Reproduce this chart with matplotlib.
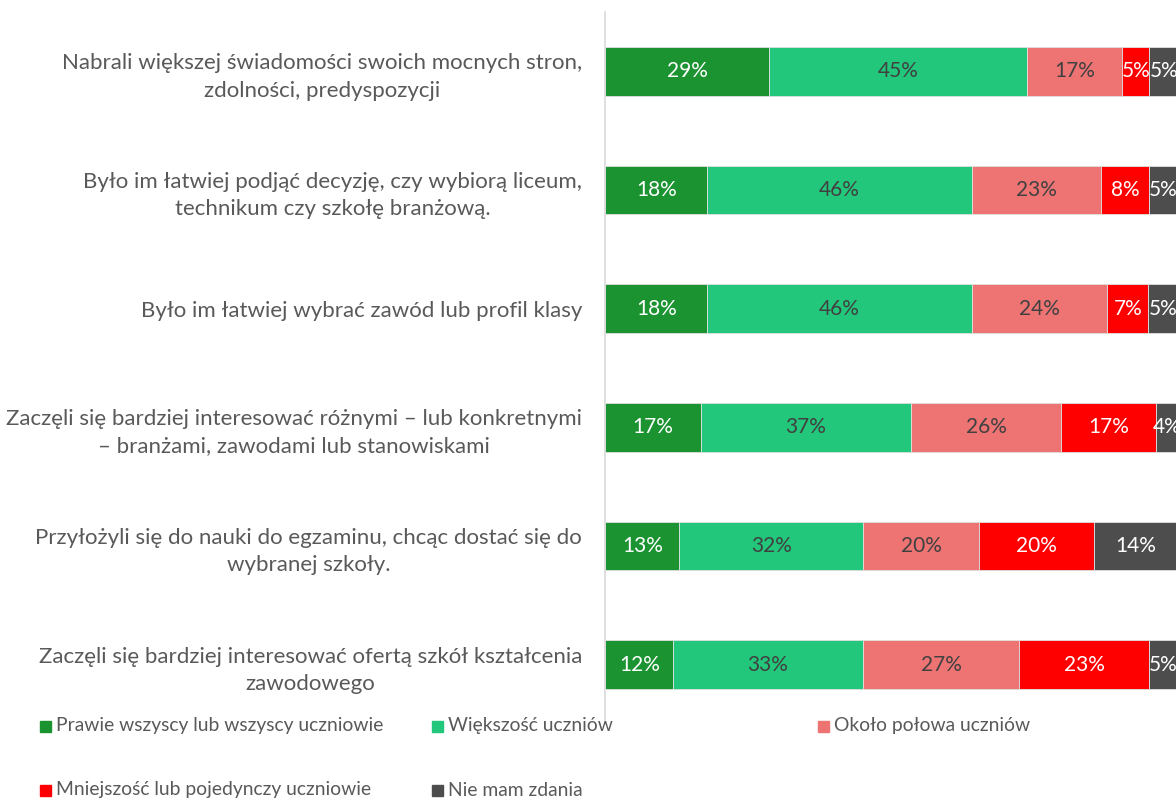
import numpy as np
import matplotlib
matplotlib.use("Agg")
import matplotlib.pyplot as plt
from matplotlib.patches import Rectangle

plt.rcParams['font.family'] = ['Lato', 'DejaVu Sans']

# categories, top to bottom
categories = [
    "Nabrali większej świadomości swoich mocnych stron,\nzdolności, predyspozycji",
    "Było im łatwiej podjąć decyzję, czy wybiorą liceum,\ntechnikum czy szkołę branżową.",
    "Było im łatwiej wybrać zawód lub profil klasy",
    "Zaczęli się bardziej interesować różnymi – lub konkretnymi\n– branżami, zawodami lub stanowiskami",
    "Przyłożyli się do nauki do egzaminu, chcąc dostać się do\nwybranej szkoły.",
    "Zaczęli się bardziej interesować ofertą szkół kształcenia\nzawodowego",
]

series_names = [
    "Prawie wszyscy lub wszyscy uczniowie",
    "Większość uczniów",
    "Około połowa uczniów",
    "Mniejszość lub pojedynczy uczniowie",
    "Nie mam zdania",
]

# values in percent (estimated widths), one list per series
prawie_wszyscy = [28.6, 17.7, 17.7, 16.6, 12.9, 11.8]
wiekszosc = [45.0, 46.2, 46.2, 36.7, 32.1, 33.1]
okolo_polowa = [16.6, 22.6, 23.7, 26.2, 20.2, 27.3]
mniejszosc = [4.7, 8.3, 7.1, 16.6, 20.1, 22.6]
nie_mam_zdania = [5.1, 5.2, 5.3, 3.9, 14.4, 5.2]

# labels as printed on the chart
lab_prawie = [29, 18, 18, 17, 13, 12]
lab_wiekszosc = [45, 46, 46, 37, 32, 33]
lab_polowa = [17, 23, 24, 26, 20, 27]
lab_mniejszosc = [5, 8, 7, 17, 20, 23]
lab_brak = [5, 5, 5, 4, 14, 5]

series = [prawie_wszyscy, wiekszosc, okolo_polowa, mniejszosc, nie_mam_zdania]
labels = [lab_prawie, lab_wiekszosc, lab_polowa, lab_mniejszosc, lab_brak]
colors = ['#1b9331', '#22c77b', '#ee7474', '#ff0000', '#4d4d4d']
text_colors = ['white', '#404040', '#404040', 'white', 'white']

W, H = 1176, 799
fig = plt.figure(figsize=(W / 100, H / 100), dpi=100)
ax = fig.add_axes([605.5 / W, 1 - 724 / H, 573 / W, 712 / H])

y = np.arange(len(categories))
left = np.zeros(len(categories))
for vals, labs, col, tcol in zip(series, labels, colors, text_colors):
    vals = np.array(vals)
    ax.barh(y, vals, left=left, height=0.41, color=col,
            edgecolor='#e0e0e0', linewidth=0.6)
    for yi, (l, v, lab) in enumerate(zip(left, vals, labs)):
        ax.text(l + v / 2, yi, f"{lab}%", ha='center', va='center',
                color=tcol, fontsize=15, clip_on=False)
    left += vals

ax.set_xlim(0, 100)
ax.set_ylim(len(categories) - 0.5, -0.5)
ax.set_xticks([])
ax.set_yticks(y)
ax.set_yticklabels(categories, fontsize=16, color='#595959',
                   multialignment='center', linespacing=1.45)
ax.tick_params(axis='y', length=0, pad=17)
for s in ['top', 'right', 'bottom']:
    ax.spines[s].set_visible(False)
ax.spines['left'].set_color('#d9d9d9')
ax.spines['left'].set_linewidth(1.2)

# legend, laid out like the original (row-wise)
legend_pos = [(40, 726), (432, 726), (818, 726), (40, 790), (432, 790)]
for (px, py), name, col in zip(legend_pos, series_names, colors):
    fig.patches.append(Rectangle((px / W, 1 - (py + 5.5) / H), 11 / W, 11 / H,
                                 transform=fig.transFigure, color=col))
    fig.text((px + 16) / W, 1 - py / H, name, ha='left', va='center',
             fontsize=13.9, color='#595959')

fig.savefig("out.png", dpi=100)
